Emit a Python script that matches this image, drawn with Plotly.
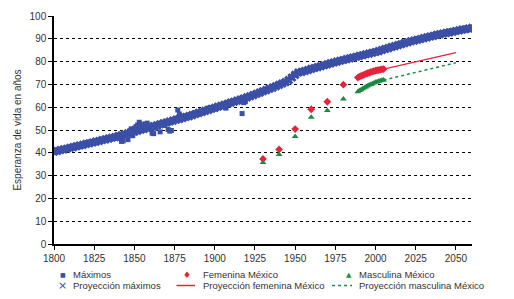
import plotly.graph_objects as go

# Proyección máximos (every 2 years, 1800-2060)
proj_years = list(range(1800, 2061, 2))
proj_vals = [40.5, 40.8, 41.2, 41.5, 41.8, 42.2, 42.5, 42.9, 43.2, 43.5, 43.9, 44.2, 44.5, 44.9, 45.2, 45.6, 45.9, 46.2, 46.6, 46.9, 47.3,
             47.7, 48.1, 48.5, 48.9, 49.3, 49.7, 50.1, 50.5, 50.9, 51.3, 51.7, 52.1, 52.5, 52.9, 53.3, 53.7, 54.1, 54.5, 54.9, 55.3, 55.7, 56.1, 56.5, 57.0, 57.5,
             57.9, 58.4, 58.8, 59.3, 59.7, 60.2, 60.6, 61.1, 61.5, 62.0, 62.4, 62.9, 63.3, 63.8, 64.3,
             64.8, 65.3, 65.9, 66.4, 67.0, 67.5, 68.1, 68.6, 69.2, 69.8, 70.4, 71.0, 71.9, 73.0, 74.2, 75.2, 75.5, 75.9, 76.3, 76.8,
             77.2, 77.6, 78.0, 78.4, 78.8, 79.2, 79.6, 80.0, 80.4, 80.7, 81.1, 81.4, 81.8, 82.1, 82.5, 82.8, 83.2, 83.5, 83.9, 84.2,
             84.6, 85.1, 85.5, 85.9, 86.4, 86.8, 87.2, 87.6, 88.1, 88.5, 88.9, 89.2, 89.6, 89.9, 90.3, 90.6, 91.0, 91.3, 91.7, 92.0,
             92.3, 92.6, 92.8, 93.1, 93.4, 93.7, 94.0, 94.2, 94.5, 94.8]

# Máximos (records, 1840-2000)
max_years = list(range(1840, 2001))
max_vals = [46.5, 47.0, 45.0, 45.2, 47.8, 48.4, 45.8, 49.6, 50.5, 47.5,
            50.8, 51.5, 52.2, 53.4, 51.8, 52.6, 51.0, 52.5, 53.0, 50.5,
            51.2, 48.6, 48.4, 50.8, 52.0, 51.5, 49.2, 52.4, 53.2, 52.0,
            53.5, 50.2, 49.5, 49.8, 54.0, 54.6, 55.2, 58.8, 57.0, 55.6,
            56.0, 55.2, 56.2, 56.0, 56.5, 56.8, 56.4, 57.2, 57.5, 56.9,
            57.8, 57.3, 58.2, 57.8, 58.6, 59.2, 59.6, 59.0, 59.8, 59.2,
            59.9, 60.4, 60.1, 60.8, 60.3, 61.0, 61.2, 59.6, 61.8, 62.2,
            61.7, 62.6, 62.3, 63.0, 62.8, 63.2, 63.5, 57.2, 62.0, 62.4,
            64.5, 64.8, 64.6, 65.3, 65.6, 65.8, 66.0, 66.4, 66.7, 66.6,
            67.2, 67.3, 67.8, 68.0, 68.2, 68.6, 68.8, 69.1, 69.5, 69.7,
            70.0, 70.2, 70.6, 70.9, 71.1, 71.6, 72.2, 72.8, 73.4, 74.0,
            74.6, 75.0, 75.4, 75.3, 75.6, 75.8, 76.0, 75.9, 76.3, 76.5,
            76.8, 77.0, 77.1, 77.4, 77.6, 77.7, 78.0, 78.2, 78.3, 78.5,
            78.8, 79.0, 79.2, 79.4, 79.6, 79.9, 80.0, 80.2, 80.4, 80.6,
            80.7, 80.9, 81.1, 81.2, 81.4, 81.6, 81.8, 82.0, 82.1, 82.3,
            82.5, 82.7, 82.8, 83.0, 83.2, 83.3, 83.5, 83.7, 83.9, 84.0,
            84.2]

# Femenina México
fem_years = [1930, 1940, 1950, 1960, 1970, 1980,
             1989, 1990, 1991, 1992, 1993, 1994, 1995, 1996, 1997, 1998, 1999, 2000, 2001, 2002, 2003, 2004, 2005]
fem_vals = [37.3, 41.5, 50.4, 59.1, 62.4, 69.9,
            73.0, 73.4, 73.7, 74.0, 74.3, 74.6, 74.9, 75.1, 75.4, 75.6, 75.8, 76.0, 76.2, 76.3, 76.5, 76.6, 76.7]

# Masculina México
mas_years = fem_years
mas_vals = [35.7, 39.2, 47.2, 55.6, 58.5, 63.6,
            66.8, 67.3, 67.7, 68.1, 68.5, 68.9, 69.3, 69.7, 70.0, 70.3, 70.6, 70.9, 71.2, 71.4, 71.6, 71.8, 71.9]

# Proyecciones México
pfem_years = [2005, 2050]
pfem_vals = [76.7, 83.9]
pmas_years = [2005, 2050]
pmas_vals = [71.9, 79.5]

x_ticks = [1800, 1825, 1850, 1875, 1900, 1925, 1950, 1975, 2000, 2025, 2050]

BLUE = "#3b4fa6"
RED = "#e5243b"
GREEN = "#1b8a43"
TXT = "#333333"
FONT = "Liberation Sans, Arial, sans-serif"

# page body has an 8px margin; figure is sized to fit the 514x299 window
OFF = 8
W, H = 514 - OFF, 299 - OFF
L, R, T, B = 46, 42, 8, 55
PW, PH = W - L - R, H - T - B


def px(xw):
    return (xw - OFF - L) / PW


def py(yw):
    return (H - B - (yw - OFF)) / PH


fig = go.Figure()
fig.add_trace(go.Scatter(x=max_years, y=max_vals, mode="markers", name="Máximos", showlegend=False,
                         marker=dict(symbol="square", size=5, color=BLUE)))
fig.add_trace(go.Scatter(x=proj_years, y=proj_vals, mode="markers", name="Proyección máximos", showlegend=False,
                         marker=dict(symbol="x-thin", size=7, color=BLUE, line=dict(color=BLUE, width=3))))
fig.add_trace(go.Scatter(x=fem_years, y=fem_vals, mode="markers", name="Femenina México", showlegend=False,
                         marker=dict(symbol="diamond", size=6, color=RED)))
fig.add_trace(go.Scatter(x=pfem_years, y=pfem_vals, mode="lines", name="Proyección femenina México", showlegend=False,
                         line=dict(color=RED, width=1.2)))
fig.add_trace(go.Scatter(x=mas_years, y=mas_vals, mode="markers", name="Masculina México", showlegend=False,
                         marker=dict(symbol="triangle-up", size=6, color=GREEN)))
fig.add_trace(go.Scatter(x=pmas_years, y=pmas_vals, mode="lines", name="Proyección masculina México", showlegend=False,
                         line=dict(color=GREEN, width=1.5, dash="dot")))

# Manual compact legend (3 columns x 2 rows), positions in window pixels
legend_items = [
    ("Máximos", 62.5, 71, 274.5, ("text", "■", BLUE, 6)),
    ("Proyección máximos", 62.5, 71, 285.5, ("text", "×", BLUE, 11)),
    ("Femenina México", 186.5, 201, 274.5, ("text", "♦", RED, 9)),
    ("Proyección femenina México", 186, 201, 285.5, ("line", "solid", RED, 1.5)),
    ("Masculina México", 348.5, 357, 274.5, ("text", "▲", GREEN, 7)),
    ("Proyección masculina México", 342, 357, 285.5, ("line", "dot", GREEN, 1.5)),
]
annotations = []
shapes = []
for label, sx, tx, yy, sym in legend_items:
    annotations.append(dict(text=label, x=px(tx), y=py(yy), xref="paper", yref="paper",
                            xanchor="left", yanchor="middle", showarrow=False,
                            font=dict(family=FONT, size=9.5, color=TXT)))
    if sym[0] == "text":
        annotations.append(dict(text=sym[1], x=px(sx), y=py(yy), xref="paper", yref="paper",
                                xanchor="center", yanchor="middle", showarrow=False,
                                font=dict(family="DejaVu Sans", size=sym[3], color=sym[2])))
    else:
        x0 = 176.5 if sym[1] == "solid" else 332
        x1 = 195 if sym[1] == "solid" else 352
        shapes.append(dict(type="line", xref="paper", yref="paper", x0=px(x0), x1=px(x1),
                           y0=py(yy), y1=py(yy), line=dict(color=sym[2], width=sym[3], dash=sym[1])))

fig.update_layout(
    width=W, height=H,
    margin=dict(l=L, r=R, t=T, b=B),
    paper_bgcolor="white", plot_bgcolor="white",
    font=dict(family=FONT, size=10, color=TXT),
    showlegend=False,
    annotations=annotations,
    shapes=shapes,
    xaxis=dict(range=[1800, 2060], tickvals=x_ticks, automargin=False,
               showgrid=False, zeroline=False, showline=True, linecolor="black", linewidth=1.5,
               ticks="outside", ticklen=4, tickcolor="black", tickfont=dict(size=10, color=TXT)),
    yaxis=dict(range=[0, 100], dtick=10, showgrid=True, gridcolor="black", griddash="dot", gridwidth=1,
               zeroline=False, showline=True, linecolor="black", linewidth=1.5, automargin=False,
               ticks="outside", ticklen=4, tickcolor="black", tickfont=dict(size=10, color=TXT),
               title=dict(text="Esperanza de vida en años", font=dict(size=10, color=TXT), standoff=6)),
)

fig.write_html("out.html")
